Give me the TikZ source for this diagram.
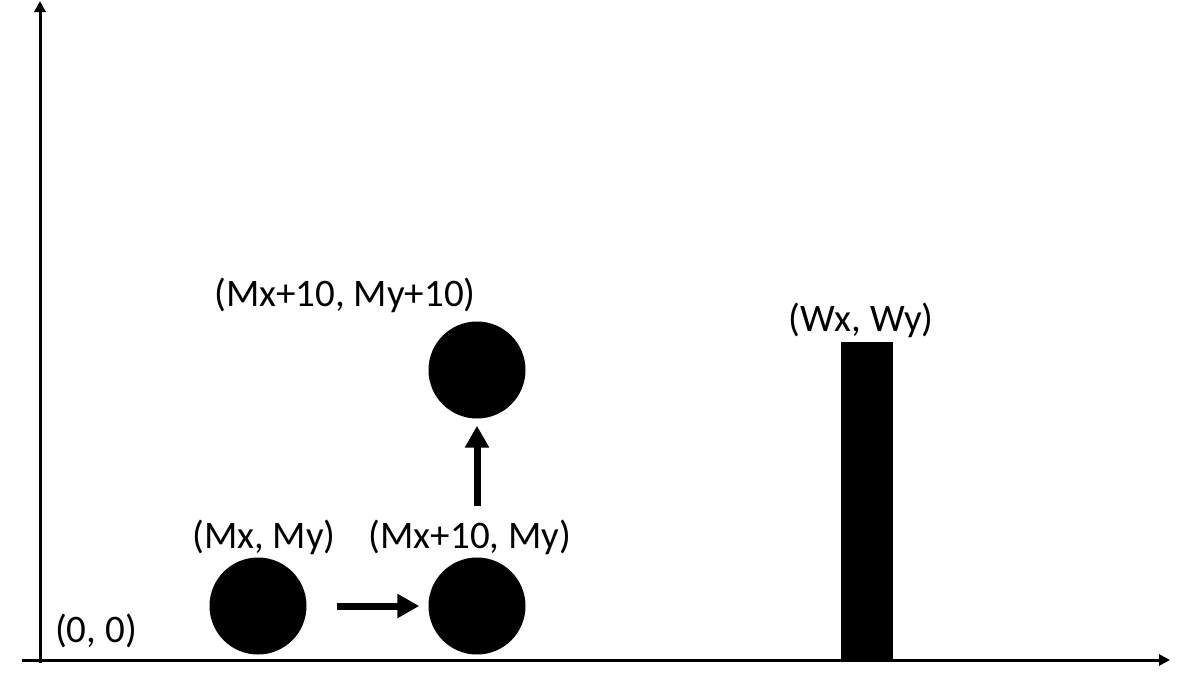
\documentclass[tikz,border=0pt]{standalone}
\usepackage{fontspec}
\setmainfont{Carlito}
\usetikzlibrary{arrows.meta}
\tikzset{
  ball/.style={circle,fill=black,draw=none,minimum size=97pt,inner sep=0pt},
  lbl/.style={inner sep=0pt,font=\fontsize{39}{44}\selectfont},
  axis/.style={line width=3pt,-{Triangle[length=11pt,width=11pt]}},
  move/.style={line width=7pt,-{Triangle[length=22pt,width=23pt]}},
}
\begin{document}
\begin{tikzpicture}[x=1pt,y=-1pt]
\useasboundingbox (0,0) rectangle (1200,675);
% axes
\coordinate (ybot) at (40,663);
\coordinate (ytop) at (40,1);
\coordinate (xleft) at (22,660);
\coordinate (xright) at (1170,660);
\draw[axis] (ybot) -- (ytop);
\draw[axis] (xleft) -- (xright);
% balls
\node[ball] (m) at (258,606) {};
\node[ball] (mr) at (477,606) {};
\node[ball] (mu) at (477,370) {};
% wall
\node[fill=black,draw=none,inner sep=0pt,minimum width=52pt,minimum height=318pt] (w) at (867,501) {};
% labels
\node[lbl] (l0) at (96,631) {(0, 0)};
\node[lbl] (lm) at (264,537) {(Mx, My)};
\node[lbl] (lmr) at (470,537) {(Mx+10, My)};
\node[lbl] (lmu) at (345,295) {(Mx+10, My+10)};
\node[lbl] (lw) at (861,320) {(Wx, Wy)};
% moves
\draw[move,shorten <=30pt,shorten >=9pt] (m) -- (mr);
\draw[move,shorten <=51pt,shorten >=7pt] (mr) -- (mu);
\end{tikzpicture}
\end{document}
